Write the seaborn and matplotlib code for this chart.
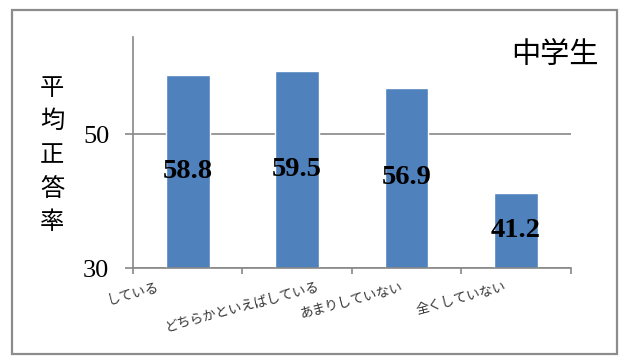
import pandas as pd
import seaborn as sns
import matplotlib.pyplot as plt
from matplotlib.patches import Rectangle

categories = ['している', 'どちらかといえばしている', 'あまりしていない', '全くしていない']
scores = [58.8, 59.5, 56.9, 41.2]
y_ticks = [30, 50]
title = '中学生'
ylabel = '平均正答率'

df = pd.DataFrame({'category': categories, 'score': scores})

sns.set_theme(style='white')
plt.rcParams['font.family'] = ['Noto Sans CJK JP', 'DejaVu Sans']
plt.rcParams['text.color'] = 'black'

fig = plt.figure(figsize=(6.21, 3.56), dpi=100)
ax = fig.add_axes([0.214, 0.247, 0.705, 0.649])

sns.barplot(data=df, x='category', y='score', color='#4F81BD', saturation=1,
            width=0.4, ax=ax)

ax.set_ylim(30, 64.5)
ax.set_xlim(-0.5, len(categories) - 0.5)
ax.set_yticks(y_ticks)
ax.set_yticklabels([str(t) for t in y_ticks], family='Liberation Serif',
                   fontsize=19, color='black')
ax.tick_params(axis='y', length=6, width=1.2, color='#888888', pad=11, left=True)

# category labels sit on the boundary ticks, like the old Excel layout
bounds = [i - 0.5 for i in range(len(categories) + 1)]
ax.set_xticks(bounds)
ax.set_xticklabels(categories + [''], rotation=15, ha='center', va='top',
                   fontsize=9.5, color='#333333')
ax.tick_params(axis='x', length=4, width=1.2, color='#888888', pad=5, bottom=True)

ax.set_xlabel('')
ax.set_ylabel('')
ax.yaxis.grid(True, color='#888888', linewidth=1.2)
ax.set_axisbelow(True)
for s in ['top', 'right']:
    ax.spines[s].set_visible(False)
for s in ['left', 'bottom']:
    ax.spines[s].set_color('#888888')
    ax.spines[s].set_linewidth(1.2)

ax.bar_label(ax.containers[0], fmt='%.1f', label_type='center', color='black',
             family='Liberation Serif', fontweight='bold', fontsize=20.5)

fig.text(555 / 621, 1 - 55 / 356, title, ha='center', va='center', fontsize=21,
         color='black')
fig.text(52 / 621, 1 - 155 / 356, '\n'.join(ylabel), ha='center', va='center',
         fontsize=17.5, linespacing=1.38, color='black')

fig.patches.append(Rectangle((12 / 621, 2 / 356), 605 / 621, 344 / 356,
                             transform=fig.transFigure, fill=False,
                             edgecolor='#8c8c8c', linewidth=1.6))

fig.savefig('out.png', dpi=100)
